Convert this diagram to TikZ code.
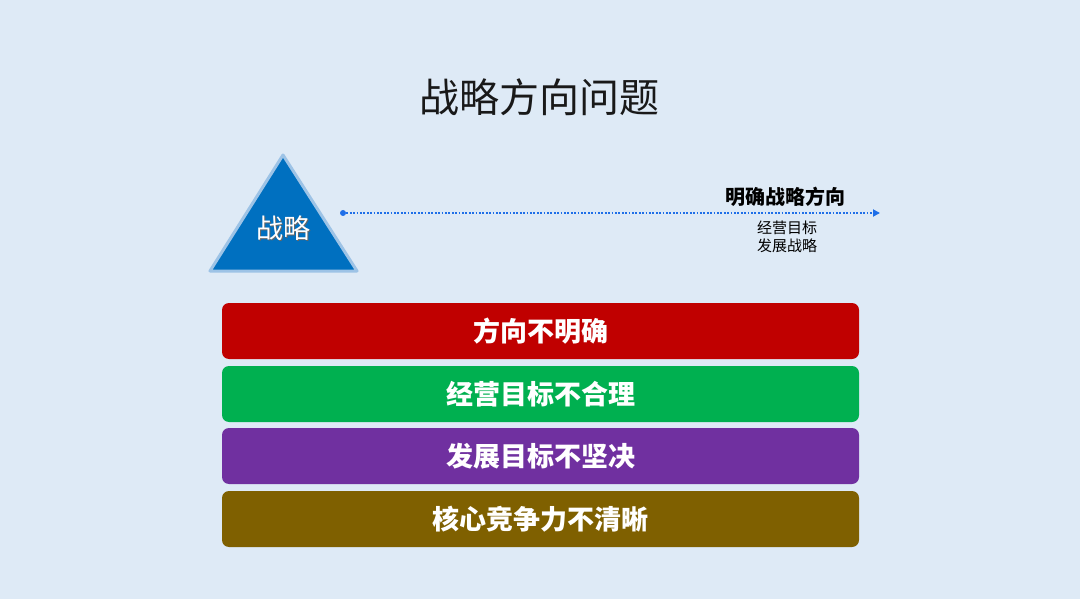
\documentclass[tikz,border=0pt]{standalone}
\usepackage{fontspec}
\newfontfamily\cjk{Noto Sans CJK SC}
\usetikzlibrary{arrows.meta}
\definecolor{bg}{HTML}{DEEAF6}
\definecolor{triblue}{HTML}{0070C0}
\definecolor{glow}{HTML}{9DC3E6}
\definecolor{lineblue}{HTML}{1F6FE8}
\definecolor{cred}{HTML}{C00000}
\definecolor{cgreen}{HTML}{00B050}
\definecolor{cpurple}{HTML}{7030A0}
\definecolor{cbrown}{HTML}{7F6000}
\tikzset{
  bar/.style={rounded corners=7pt, minimum width=637pt, minimum height=56pt, inner sep=0pt,
    text=white, font=\cjk\bfseries\fontsize{27}{31}\selectfont},
  small/.style={font=\cjk\fontsize{15}{17}\selectfont, text=black, inner sep=0pt}
}
\begin{document}
\begin{tikzpicture}[x=1pt,y=-1pt]
\fill[bg] (0,0) rectangle (1080,599);
\useasboundingbox (0,0) rectangle (1080,599);
% title
\node[font=\cjk\fontsize{40}{46}\selectfont, text=black!90] (title) at (539,97) {战略方向问题};
% triangle
\coordinate (ta) at (283,155);
\coordinate (tl) at (210,271);
\coordinate (tr) at (357,271);
\draw[glow, line width=3pt, line join=round, fill=triblue] (ta) -- (tl) -- (tr) -- cycle;
\node[font=\cjk\fontsize{27}{31}\selectfont, text=black!60] at (284.5,229.5) {战略};
\node[font=\cjk\fontsize{27}{31}\selectfont, text=white] (tri) at (283,228) {战略};
% dotted line
\coordinate (ls) at (343,213);
\coordinate (le) at (880,213);
\fill[lineblue] (ls) circle (3pt);
\draw[lineblue, line width=1.8pt, dash pattern=on 1.8pt off 1.6pt, -{Triangle[length=7pt,width=7pt]}] (ls) -- (le);
\node[font=\cjk\bfseries\fontsize{20}{23}\selectfont, text=black, inner sep=0pt] (goal) at (785,197) {明确战略方向};
\node[small] (s1) at (787,228) {经营目标};
\node[small] (s2) at (787,246) {发展战略};
% bars
\node[bar, fill=cred]    (b1) at (540.5,331) {方向不明确};
\node[bar, fill=cgreen]  (b2) at (540.5,394) {经营目标不合理};
\node[bar, fill=cpurple] (b3) at (540.5,456) {发展目标不坚决};
\node[bar, fill=cbrown]  (b4) at (540.5,519) {核心竞争力不清晰};
\end{tikzpicture}
\end{document}
